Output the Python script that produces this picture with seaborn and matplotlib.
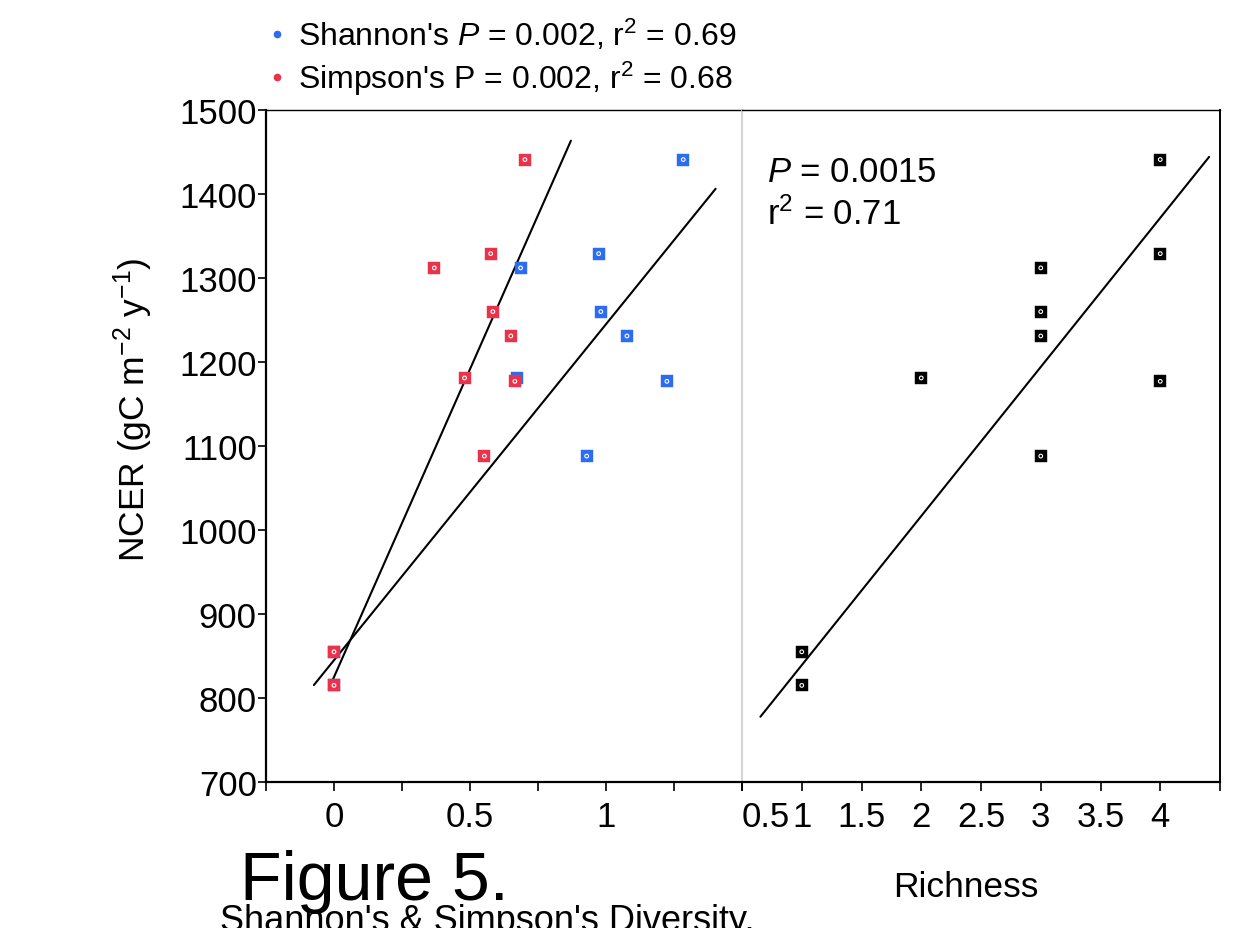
import numpy as np
import pandas as pd
import matplotlib
matplotlib.use("Agg")
import matplotlib.pyplot as plt
from matplotlib.lines import Line2D
import seaborn as sns

# ---------------- data ----------------
ncer = [1441, 1329, 1312, 1260, 1231, 1181, 1177, 1088, 855, 815]
shannon = [1.284, 0.973, 0.686, 0.981, 1.077, 0.671, 1.224, 0.929, 0.0, 0.0]
simpson = [0.702, 0.576, 0.369, 0.584, 0.650, 0.480, 0.665, 0.553, 0.0, 0.0]
richness = [4, 4, 3, 3, 3, 2, 4, 3, 1, 1]

# fitted lines as drawn in the reference: slope, intercept, x-extent
shannon_fit = dict(slope=400.0, intercept=845.0, x0=-0.074, x1=1.403)
simpson_fit = dict(slope=733.0, intercept=825.0, x0=-0.013, x1=0.871)
richness_fit = dict(slope=177.5, intercept=661.6, x0=0.654, x1=4.409)

legend_labels = ["Shannon's $P$ = 0.002, r$^2$ = 0.69",
                 "Simpson's P = 0.002, r$^2$ = 0.68"]
richness_stats = ["$P$ = 0.0015", "r$^2$ = 0.71"]

y_ticks = [700, 800, 900, 1000, 1100, 1200, 1300, 1400, 1500]
div_ticks = [-0.25, 0, 0.25, 0.5, 0.75, 1.0, 1.25, 1.5]
div_ticklabels = ["", "0", "", "0.5", "", "1", "", ""]
rich_ticks = [0.5, 1, 1.5, 2, 2.5, 3, 3.5, 4, 4.5]
rich_ticklabels = ["0.5", "1", "1.5", "2", "2.5", "3", "3.5", "4", ""]

BLUE = "#2b6cf3"
RED = "#e8334a"

# ---------------- style ----------------
sns.set_theme(style="white")
plt.rcParams["font.family"] = ["Liberation Sans", "DejaVu Sans"]
plt.rcParams["mathtext.fontset"] = "custom"
plt.rcParams["mathtext.rm"] = "Liberation Sans"
plt.rcParams["mathtext.it"] = "Liberation Sans:italic"
plt.rcParams["mathtext.bf"] = "Liberation Sans:bold"
plt.rcParams["text.color"] = "black"
plt.rcParams["axes.labelcolor"] = "black"
plt.rcParams["xtick.color"] = "black"
plt.rcParams["ytick.color"] = "black"
plt.rcParams["xtick.labelcolor"] = "black"
plt.rcParams["ytick.labelcolor"] = "black"

df = pd.DataFrame(dict(ncer=ncer, shannon=shannon, simpson=simpson, richness=richness))

W, H = 1241, 929
fig = plt.figure(figsize=(W / 100, H / 100), dpi=100)
fig.patch.set_facecolor("white")

ax_l, ax_r, ax_t, ax_b = 266, 742, 111, 783
ax2_r = 1220
ax1 = fig.add_axes([ax_l / W, (H - ax_b) / H, (ax_r - ax_l) / W, (ax_b - ax_t) / H])
ax2 = fig.add_axes([ax_r / W, (H - ax_b) / H, (ax2_r - ax_r) / W, (ax_b - ax_t) / H])

SQ = 72   # square marker size (pt^2)
DOT = 7   # inner white ring size


def draw_points(ax, xcol, color, z):
    sns.scatterplot(data=df, x=xcol, y="ncer", ax=ax, marker="s", s=SQ,
                    color=color, edgecolor=color, linewidth=0.3, zorder=z, legend=False)
    sns.scatterplot(data=df, x=xcol, y="ncer", ax=ax, marker="o", s=DOT,
                    facecolor="none", edgecolor="white", linewidth=0.8, zorder=z + 0.1,
                    legend=False)


def draw_fit(ax, fit):
    xs = np.array([fit["x0"], fit["x1"]])
    ys = fit["intercept"] + fit["slope"] * xs
    sns.lineplot(x=xs, y=ys, ax=ax, color="black", linewidth=1.5, zorder=2)


# ---------------- left panel ----------------
draw_fit(ax1, shannon_fit)
draw_fit(ax1, simpson_fit)
draw_points(ax1, "shannon", BLUE, 3)
draw_points(ax1, "simpson", RED, 4)

ax1.set_xlim(-0.25, 1.5)
ax1.set_ylim(700, 1500)
ax1.set_xticks(div_ticks)
ax1.set_xticklabels(div_ticklabels)
ax1.set_yticks(y_ticks)
ax1.set_yticklabels([str(v) for v in y_ticks])
ax1.tick_params(axis="both", direction="out", length=8.5 * 0.72, width=1.2,
                colors="black", labelcolor="black", labelsize=25)
ax1.tick_params(axis="x", pad=7)
ax1.tick_params(axis="y", pad=0.5)
ax1.tick_params(left=True, bottom=True)
for s in ["left", "bottom"]:
    ax1.spines[s].set_linewidth(1.6)
    ax1.spines[s].set_color("black")
ax1.spines["top"].set_linewidth(1.0)
ax1.spines["top"].set_color("black")
ax1.spines["right"].set_visible(False)

ax1.set_ylabel("NCER (gC m$^{-2}$ y$^{-1}$)", fontsize=25.5, color="black")
ax1.yaxis.label.set_va("baseline")
ax1.yaxis.set_label_coords((145 - ax_l) / (ax_r - ax_l), (ax_b - 410) / (ax_b - ax_t))

ax1.set_xlabel("Shannon's & Simpson's Diversity.", fontsize=26, color="black")
ax1.xaxis.label.set_ha("left")
ax1.xaxis.label.set_va("baseline")
ax1.xaxis.set_label_coords((220 - ax_l) / (ax_r - ax_l), (ax_b - 931) / (ax_b - ax_t))

handles = [Line2D([], [], marker="o", ls="", color=BLUE, markersize=4.5),
           Line2D([], [], marker="o", ls="", color=RED, markersize=4.5)]
leg = ax1.legend(handles, legend_labels, loc="lower left",
                 bbox_to_anchor=(264 / W, (H - 98) / H), bbox_transform=fig.transFigure,
                 frameon=False, fontsize=23, handlelength=0.8, handletextpad=0.25,
                 labelspacing=0.2, borderpad=0, borderaxespad=0)
for t in leg.get_texts():
    t.set_color("black")

# ---------------- right panel ----------------
draw_fit(ax2, richness_fit)
draw_points(ax2, "richness", "black", 3)

ax2.set_xlim(0.5, 4.5)
ax2.set_ylim(700, 1500)
ax2.set_xticks(rich_ticks)
ax2.set_xticklabels(rich_ticklabels)
ax2.get_xticklabels()[0].set_ha("left")
ax2.set_yticks([])
ax2.set_ylabel("")
ax2.tick_params(axis="x", direction="out", length=8.5 * 0.72, width=1.2,
                colors="black", labelcolor="black", labelsize=25, pad=7, bottom=True)
ax2.spines["left"].set_color("#d4d4d4")
ax2.spines["left"].set_linewidth(1.5)
ax2.spines["bottom"].set_linewidth(1.6)
ax2.spines["bottom"].set_color("black")
ax2.spines["top"].set_linewidth(1.0)
ax2.spines["top"].set_color("black")
ax2.spines["right"].set_linewidth(1.4)
ax2.spines["right"].set_color("black")

ax2.set_xlabel("Richness", fontsize=25.5, color="black")
ax2.xaxis.label.set_va("baseline")
ax2.xaxis.set_label_coords((966 - ax_r) / (ax2_r - ax_r), (ax_b - 897) / (ax_b - ax_t))

ax2.text((767 - ax_r) / (ax2_r - ax_r), (ax_b - 182) / (ax_b - ax_t), richness_stats[0],
         transform=ax2.transAxes, fontsize=25, ha="left", va="baseline", color="black")
ax2.text((767 - ax_r) / (ax2_r - ax_r), (ax_b - 225) / (ax_b - ax_t), richness_stats[1],
         transform=ax2.transAxes, fontsize=25, ha="left", va="baseline", color="black")

fig.text(240 / W, (H - 900) / H, "Figure 5.", fontsize=49, ha="left", va="baseline",
         color="black")

fig.savefig("out.png", dpi=100, facecolor="white")
